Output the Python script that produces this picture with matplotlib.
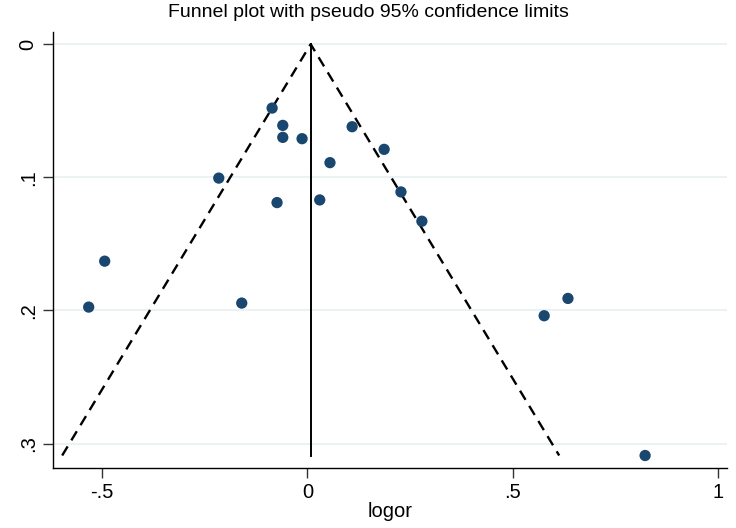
import numpy as np
import matplotlib
matplotlib.use('Agg')
import matplotlib.pyplot as plt

plt.rcParams['font.family'] = ['Liberation Sans', 'DejaVu Sans']

# study estimates (log odds ratio) and their standard errors
logor = [-0.086, -0.060, -0.060, -0.013, 0.109, 0.187, 0.055, -0.216, 0.228,
         -0.074, 0.030, 0.279, -0.494, -0.533, -0.160, 0.577, 0.635, 0.823]
se = [0.048, 0.061, 0.070, 0.071, 0.062, 0.079, 0.089, 0.1006, 0.111,
      0.119, 0.117, 0.133, 0.163, 0.1975, 0.1945, 0.204, 0.191, 0.309]
pooled = 0.008

xticks = [-0.5, 0, 0.5, 1]
xlabels = ['-.5', '0', '.5', '1']
yticks = [0, 0.1, 0.2, 0.3]
ylabels = ['0', '.1', '.2', '.3']

navy = '#1a476f'
grid_c = '#eaf2f3'

fig = plt.figure(figsize=(7.36, 5.28), dpi=100)
ax = fig.add_axes([0.072, 0.1136, 0.916, 0.8254])

# pseudo 95% limits
smax = max(se)
ax.plot([pooled - 1.96 * smax, pooled, pooled + 1.96 * smax], [smax, 0, smax],
        color='black', lw=1.7, ls=(0, (4.5, 3)), zorder=2)
ax.plot([pooled, pooled], [0, smax], color='black', lw=1.4, zorder=2)

ax.scatter(logor, se, s=66, color=navy, edgecolors='none', zorder=3)

ax.set_xlim(-0.62, 1.023)
ax.set_ylim(0.3184, -0.009)

ax.set_yticks(yticks)
ax.set_yticklabels(ylabels, rotation=90, va='center', fontsize=14.5)
ax.set_xticks(xticks)
ax.set_xticklabels(xlabels, fontsize=14.5)
ax.tick_params(axis='both', direction='out', length=7, width=1, color='#333333', pad=4)
ax.yaxis.grid(True, color=grid_c, lw=1.5)
ax.set_axisbelow(True)

for s in ['top', 'right']:
    ax.spines[s].set_visible(False)
for s in ['left', 'bottom']:
    ax.spines[s].set_linewidth(1)

ax.set_xlabel('logor', fontsize=14.5, labelpad=0)
fig.text(0.5, 0.977, 'Funnel plot with pseudo 95% confidence limits',
         fontsize=14, ha='center', va='center')

fig.savefig('out.png', dpi=100)
